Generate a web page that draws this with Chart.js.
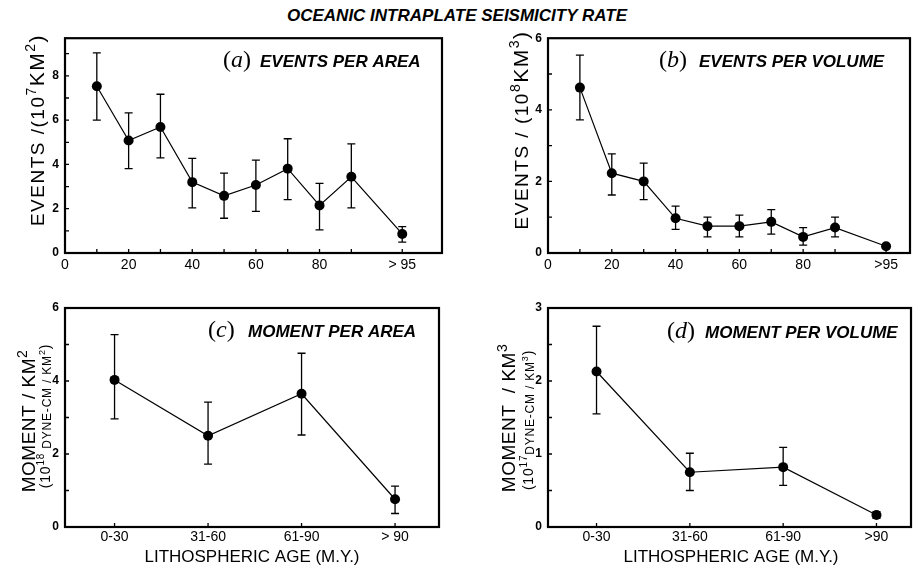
<!DOCTYPE html>
<html>
<head>
<meta charset="utf-8">
<script src="https://cdn.jsdelivr.net/npm/chart.js@4.4.1/dist/chart.umd.min.js"></script>
<style>
  body { margin: 0; background: #fff; }
  #page { position: relative; width: 914px; height: 568px; overflow: hidden; background: #fff; }
  #heading {
    position: absolute; left: 0; top: 7px; width: 914px; text-align: center;
    font: italic bold 17px/17px "Liberation Sans", Arial, sans-serif; color: #000;
  }
  canvas { position: absolute; }
</style>
</head>
<body>
<div id="page">
  <div id="heading">OCEANIC INTRAPLATE SEISMICITY RATE</div>
  <canvas id="chartA" width="457" height="255" style="left:0;top:25px"></canvas>
  <canvas id="chartB" width="457" height="255" style="left:457px;top:25px"></canvas>
  <canvas id="chartC" width="457" height="278" style="left:0;top:290px"></canvas>
  <canvas id="chartD" width="457" height="278" style="left:457px;top:290px"></canvas>
</div>
<script>
// age bins in m.y. (the open ">95" bin is plotted at 106)
const ageBins = [10, 20, 30, 40, 50, 60, 70, 80, 90, 106];
const ageTicks = [0, 20, 40, 60, 80, 106];
const ageTickLabelsA = ['0', '20', '40', '60', '80', '> 95'];
const ageTickLabelsB = ['0', '20', '40', '60', '80', '>95'];

// (a) events per area, units of 10^7 km^2
const eventsArea   = [7.53, 5.08, 5.69, 3.20, 2.58, 3.07, 3.81, 2.15, 3.44, 0.86];
const eventsAreaLo = [6.00, 3.81, 4.30, 2.04, 1.57, 1.88, 2.41, 1.04, 2.04, 0.49];
const eventsAreaHi = [9.04, 6.33, 7.17, 4.27, 3.61, 4.19, 5.16, 3.14, 4.93, 1.19];
const eventsAreaTicks = [0, 2, 4, 6, 8];

// (b) events per volume, units of 10^8 km^3
const eventsVolume   = [4.62, 2.23, 2.00, 0.97, 0.75, 0.75, 0.87, 0.45, 0.71, 0.19];
const eventsVolumeLo = [3.72, 1.62, 1.49, 0.66, 0.45, 0.45, 0.53, 0.22, 0.45, 0.19];
const eventsVolumeHi = [5.53, 2.77, 2.51, 1.31, 1.00, 1.06, 1.21, 0.71, 1.00, 0.19];
const eventsVolumeTicks = [0, 2, 4, 6];

// (c), (d) moment release by age group
const ageGroupsC = ['0-30', '31-60', '61-90', '> 90'];
const ageGroupsD = ['0-30', '31-60', '61-90', '>90'];
const momentArea   = [4.03, 2.50, 3.65, 0.76];
const momentAreaLo = [2.96, 1.72, 2.52, 0.37];
const momentAreaHi = [5.27, 3.42, 4.76, 1.12];
const momentAreaTicks = [0, 2, 4, 6];

const momentVolume   = [2.13, 0.75, 0.82, 0.165];
const momentVolumeLo = [1.55, 0.50, 0.57, 0.12];
const momentVolumeHi = [2.75, 1.01, 1.09, 0.21];
const momentVolumeTicks = [0, 1, 2, 3];

const SANS = '"Liberation Sans", Arial, sans-serif';
const SERIF = '"Liberation Serif", "Times New Roman", serif';
const sans = (size, style = '') => `${style} ${size}px ${SANS}`;
const serif = (size, style = '') => `${style} ${size}px ${SERIF}`;

Chart.defaults.font.family = SANS;
Chart.defaults.color = '#000';

// draws a line of mixed-size text runs (superscripts etc), optionally rotated
function drawRuns(ctx, item) {
  ctx.save();
  ctx.fillStyle = '#000';
  ctx.textAlign = 'left';
  ctx.textBaseline = 'alphabetic';
  ctx.letterSpacing = (item.spacing || 0) + 'px';
  const widths = item.runs.map(r => { ctx.font = r.font; return ctx.measureText(r.text).width; });
  const total = widths.reduce((a, b) => a + b, 0);
  ctx.translate(item.x, item.y);
  if (item.rotate) ctx.rotate(-Math.PI / 2);
  let x = item.align === 'center' ? -total / 2 : 0;
  item.runs.forEach((r, i) => {
    ctx.font = r.font;
    ctx.fillText(r.text, x, r.dy || 0);
    x += widths[i];
  });
  ctx.restore();
}

// error bars, frame with inward ticks, and the panel texts
function panelExtras(s) {
  return {
    id: 'panelExtras',
    beforeDatasetsDraw(chart) {
      const { ctx, scales: { x, y } } = chart;
      ctx.save();
      ctx.strokeStyle = '#000';
      ctx.lineWidth = 1.3;
      s.xs.forEach((v, i) => {
        if (s.hi[i] - s.lo[i] < 1e-6) return;
        const px = x.getPixelForValue(v);
        const top = y.getPixelForValue(s.hi[i]);
        const bot = y.getPixelForValue(s.lo[i]);
        ctx.beginPath();
        ctx.moveTo(px, top); ctx.lineTo(px, bot);
        ctx.moveTo(px - 4, top); ctx.lineTo(px + 4, top);
        ctx.moveTo(px - 4, bot); ctx.lineTo(px + 4, bot);
        ctx.stroke();
      });
      ctx.restore();
    },
    afterDraw(chart) {
      const { ctx, chartArea: a, scales: { x, y } } = chart;
      ctx.save();
      ctx.strokeStyle = '#000';
      ctx.lineWidth = 1.3;
      ctx.beginPath();
      s.xs.forEach(v => {
        const px = x.getPixelForValue(v);
        ctx.moveTo(px, a.bottom); ctx.lineTo(px, a.bottom - 4);
      });
      for (let v = s.yStep; v < s.yMax - 1e-6; v += s.yStep) {
        const py = y.getPixelForValue(v);
        ctx.moveTo(a.left, py); ctx.lineTo(a.left + 4, py);
      }
      ctx.stroke();
      ctx.lineWidth = 2.2;
      ctx.strokeRect(a.left, a.top, a.right - a.left, a.bottom - a.top);
      ctx.restore();
      s.texts.forEach(t => drawRuns(ctx, t));
    }
  };
}

function makePanel(id, s) {
  return new Chart(document.getElementById(id), {
    type: 'line',
    data: {
      datasets: [{
        data: s.xs.map((v, i) => ({ x: v, y: s.ys[i] })),
        borderColor: '#000',
        borderWidth: 1.2,
        pointRadius: 5,
        pointBackgroundColor: '#000',
        pointBorderWidth: 0,
        tension: 0
      }]
    },
    options: {
      responsive: false,
      animation: false,
      events: [],
      layout: { autoPadding: false, padding: { top: s.padTop, right: s.padRight, left: 0, bottom: 0 } },
      plugins: { legend: { display: false }, tooltip: { enabled: false } },
      scales: {
        x: {
          type: 'linear', min: s.xMin, max: s.xMax,
          grid: { display: false, drawTicks: false }, border: { display: false },
          afterBuildTicks: sc => { sc.ticks = s.xTicks.map(v => ({ value: v })); },
          afterFit: sc => { sc.height = s.xAxisH; },
          ticks: {
            autoSkip: false, maxRotation: 0, padding: s.xPad, color: '#000',
            font: { size: 14 },
            callback: (v, i) => s.xLabels[i]
          }
        },
        y: {
          type: 'linear', min: 0, max: s.yMax,
          grid: { display: false, drawTicks: false }, border: { display: false },
          afterBuildTicks: sc => { sc.ticks = s.yTicks.map(v => ({ value: v })); },
          afterFit: sc => { sc.width = s.yAxisW; },
          ticks: {
            padding: 6, color: '#000',
            font: { size: 12, weight: 'bold' },
            callback: v => String(v)
          }
        }
      }
    },
    plugins: [panelExtras(s)]
  });
}

makePanel('chartA', {
  xs: ageBins, ys: eventsArea, lo: eventsAreaLo, hi: eventsAreaHi,
  xMin: 0, xMax: 118.5, yMax: 9.7, yStep: 1,
  xTicks: ageTicks, xLabels: ageTickLabelsA, yTicks: eventsAreaTicks,
  padTop: 10, padRight: 15, yAxisW: 65, xAxisH: 27, xPad: 4,
  texts: [
    { x: 223, y: 42, runs: [{ text: '(', font: serif(24) }, { text: 'a', font: serif(24, 'italic') }, { text: ')', font: serif(24) }] },
    { x: 260, y: 42, runs: [{ text: 'EVENTS PER AREA', font: sans(17, 'italic bold') }] },
    { x: 44, y: 105, rotate: true, align: 'center', spacing: 1.5, runs: [
      { text: 'EVENTS /(10', font: sans(19) }, { text: '7', font: sans(14), dy: -8 },
      { text: 'KM', font: sans(21) }, { text: '2', font: sans(14), dy: -9 }, { text: ')', font: sans(21) }] }
  ]
});

makePanel('chartB', {
  xs: ageBins, ys: eventsVolume, lo: eventsVolumeLo, hi: eventsVolumeHi,
  xMin: 0, xMax: 113.5, yMax: 6, yStep: 1,
  xTicks: ageTicks, xLabels: ageTickLabelsB, yTicks: eventsVolumeTicks,
  padTop: 10, padRight: 4, yAxisW: 91, xAxisH: 27, xPad: 4,
  texts: [
    { x: 202, y: 42, runs: [{ text: '(', font: serif(24) }, { text: 'b', font: serif(24, 'italic') }, { text: ')', font: serif(24) }] },
    { x: 242, y: 42, runs: [{ text: 'EVENTS PER VOLUME', font: sans(17, 'italic bold') }] },
    { x: 71, y: 105, rotate: true, align: 'center', spacing: 1.5, runs: [
      { text: 'EVENTS / (10', font: sans(19) }, { text: '8', font: sans(14), dy: -8 },
      { text: 'KM', font: sans(21) }, { text: '3', font: sans(14), dy: -9 }, { text: ')', font: sans(21) }] }
  ]
});

makePanel('chartC', {
  xs: ageGroupsC.map((g, i) => i), ys: momentArea, lo: momentAreaLo, hi: momentAreaHi,
  xMin: -0.53, xMax: 3.47, yMax: 6, yStep: 1,
  xTicks: ageGroupsC.map((g, i) => i), xLabels: ageGroupsC, yTicks: momentAreaTicks,
  padTop: 18, padRight: 18, yAxisW: 65, xAxisH: 41, xPad: 2,
  texts: [
    { x: 208, y: 47, runs: [{ text: '(', font: serif(24) }, { text: 'c', font: serif(24, 'italic') }, { text: ')', font: serif(24) }] },
    { x: 248, y: 47, runs: [{ text: 'MOMENT PER AREA', font: sans(17, 'italic bold') }] },
    { x: 35, y: 131, rotate: true, align: 'center', spacing: 0.5, runs: [
      { text: 'MOMENT / KM', font: sans(19) }, { text: '2', font: sans(14), dy: -8 }] },
    { x: 50, y: 126, rotate: true, align: 'center', spacing: 0.8, runs: [
      { text: '(10', font: sans(14) }, { text: '18', font: sans(10), dy: -6 },
      { text: ' DYNE-CM / KM', font: sans(12), dy: 1 }, { text: '2', font: sans(9), dy: -5 }, { text: ')', font: sans(14) }] },
    { x: 252, y: 271.5, align: 'center', runs: [{ text: 'LITHOSPHERIC AGE (M.Y.)', font: sans(17) }] }
  ]
});

makePanel('chartD', {
  xs: ageGroupsD.map((g, i) => i), ys: momentVolume, lo: momentVolumeLo, hi: momentVolumeHi,
  xMin: -0.52, xMax: 3.37, yMax: 3, yStep: 0.5,
  xTicks: ageGroupsD.map((g, i) => i), xLabels: ageGroupsD, yTicks: momentVolumeTicks,
  padTop: 18, padRight: 3, yAxisW: 91, xAxisH: 41, xPad: 2,
  texts: [
    { x: 210, y: 48, runs: [{ text: '(', font: serif(24) }, { text: 'd', font: serif(24, 'italic') }, { text: ')', font: serif(24) }] },
    { x: 248, y: 48, runs: [{ text: 'MOMENT PER VOLUME', font: sans(17, 'italic bold') }] },
    { x: 58, y: 128, rotate: true, align: 'center', spacing: 0.5, runs: [
      { text: 'MOMENT  / KM', font: sans(19) }, { text: '3', font: sans(14), dy: -8 }] },
    { x: 76, y: 130, rotate: true, align: 'center', spacing: 0.8, runs: [
      { text: '(10', font: sans(14) }, { text: '17', font: sans(10), dy: -6 },
      { text: 'DYNE-CM / KM', font: sans(12), dy: 1 }, { text: '3', font: sans(9), dy: -5 }, { text: ')', font: sans(14) }] },
    { x: 274, y: 271.5, align: 'center', runs: [{ text: 'LITHOSPHERIC AGE (M.Y.)', font: sans(17) }] }
  ]
});
</script>
</body>
</html>
